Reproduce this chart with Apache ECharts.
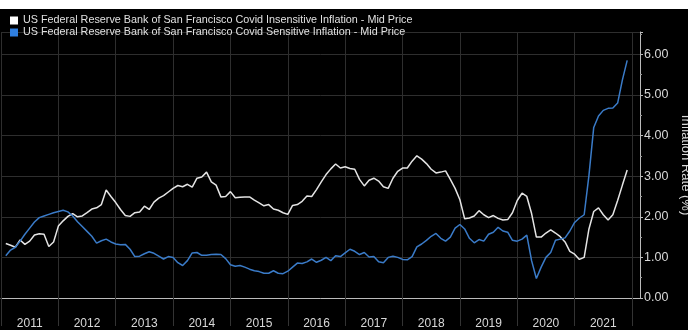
<!DOCTYPE html>
<html>
<head>
<meta charset="utf-8">
<script src="https://cdn.jsdelivr.net/npm/echarts@6/dist/echarts.min.js"></script>
<style>
  html, body { margin: 0; padding: 0; background: #fff; }
  #main { position: absolute; left: 0; top: 9px; width: 688px; height: 321px; background: #000; }
</style>
</head>
<body>
<div id="main"></div>
<script>
// monthly readings, Jan 2011 .. Nov 2021
var startYear = 2011;
var insensitive = [
  1.34, 1.30, 1.25, 1.43, 1.32, 1.40, 1.55, 1.58, 1.57, 1.27, 1.38, 1.77,
  1.90, 2.01, 2.08, 2.00, 2.02, 2.10, 2.19, 2.22, 2.30, 2.66, 2.50, 2.35,
  2.18, 2.03, 2.01, 2.10, 2.12, 2.26, 2.18, 2.36, 2.46, 2.52, 2.61, 2.70,
  2.77, 2.74, 2.80, 2.73, 2.95, 2.98, 3.10, 2.86, 2.78, 2.49, 2.50, 2.62,
  2.47, 2.48, 2.49, 2.49, 2.41, 2.34, 2.27, 2.30, 2.19, 2.16, 2.10, 2.06,
  2.28, 2.30, 2.38, 2.51, 2.50, 2.67, 2.86, 3.04, 3.18, 3.30, 3.20, 3.23,
  3.19, 3.17, 2.92, 2.76, 2.90, 2.95, 2.88, 2.74, 2.70, 2.95, 3.12, 3.20,
  3.20, 3.37, 3.50, 3.42, 3.31, 3.17, 3.08, 3.10, 3.13, 2.92, 2.70, 2.42,
  1.95, 1.97, 2.02, 2.15, 2.05, 1.98, 2.03, 1.96, 1.92, 1.93, 2.10, 2.40,
  2.58, 2.50, 2.08, 1.50, 1.50, 1.60, 1.68, 1.60, 1.51, 1.38, 1.15, 1.08,
  0.95, 1.00, 1.70, 2.13, 2.22, 2.05, 1.92, 2.05, 2.40, 2.78, 3.15
];
var sensitive = [
  1.04, 1.18, 1.25, 1.40, 1.57, 1.72, 1.87, 1.98, 2.02, 2.06, 2.10, 2.13,
  2.16, 2.12, 2.02, 1.88, 1.76, 1.64, 1.52, 1.35, 1.41, 1.45, 1.38, 1.33,
  1.31, 1.32, 1.20, 1.02, 1.03, 1.09, 1.14, 1.10, 1.03, 0.96, 1.02, 1.00,
  0.87, 0.80, 0.92, 1.11, 1.12, 1.05, 1.05, 1.07, 1.08, 1.07, 0.97, 0.82,
  0.78, 0.80, 0.76, 0.71, 0.67, 0.65, 0.61, 0.61, 0.67, 0.61, 0.60, 0.66,
  0.76, 0.86, 0.85, 0.89, 0.96, 0.88, 0.93, 1.00, 0.92, 1.04, 1.02, 1.11,
  1.20, 1.15, 1.07, 1.12, 1.01, 1.02, 0.89, 0.87, 1.00, 1.03, 1.00, 0.95,
  0.94, 1.02, 1.26, 1.33, 1.42, 1.52, 1.59, 1.47, 1.40, 1.50, 1.72, 1.81,
  1.70, 1.47, 1.36, 1.44, 1.40, 1.57, 1.62, 1.74, 1.65, 1.62, 1.42, 1.40,
  1.45, 1.55, 0.92, 0.48, 0.76, 1.00, 1.12, 1.42, 1.45, 1.48, 1.65, 1.86,
  1.97, 2.05, 3.02, 4.20, 4.48, 4.62, 4.67, 4.68, 4.80, 5.37, 5.85
];
var years = [2011, 2012, 2013, 2014, 2015, 2016, 2017, 2018, 2019, 2020, 2021];
var yTicks = [0, 1, 2, 3, 4, 5, 6];

var nameA = 'US Federal Reserve Bank of San Francisco Covid Insensitive Inflation - Mid Price';
var nameB = 'US Federal Reserve Bank of San Francisco Covid Sensitive Inflation - Mid Price';

// points sit at month end
function toPairs(arr) {
  return arr.map(function (v, i) { return [startYear + (i + 1) / 12, v]; });
}

var gridLines = years.concat([years[years.length - 1] + 1]);
var labelPos = years.map(function (y) { return y + 0.5; });

var chart = echarts.init(document.getElementById('main'));
chart.setOption({
  backgroundColor: '#000',
  animation: false,
  textStyle: { fontFamily: 'Liberation Sans' },
  legend: {
    left: 5, top: 1,
    orient: 'vertical',
    itemGap: 1,
    itemWidth: 8, itemHeight: 8,
    icon: 'rect',
    textStyle: { color: '#e0e0e0', fontSize: 10.8 },
    data: [nameA, nameB]
  },
  grid: { left: 1, right: 48, top: 23, bottom: 32, outerBoundsMode: 'none', containLabel: false },
  xAxis: {
    type: 'value',
    min: 2011, max: 2022.14,
    offset: 5,
    axisLine: { show: true, lineStyle: { color: '#bbb', width: 1 } },
    axisTick: { show: true, length: 28, customValues: gridLines, lineStyle: { color: '#333' } },
    axisLabel: {
      customValues: labelPos,
      formatter: function (v) { return String(Math.floor(v)); },
      color: '#d8d8d8', fontSize: 12, margin: 15
    },
    splitLine: { show: true, lineStyle: { color: '#2e2e2e' } }
  },
  yAxis: {
    type: 'value',
    position: 'right',
    min: 0, max: 6.55, interval: 1,
    name: 'Inflation Rate (%)',
    nameLocation: 'middle',
    nameRotate: -90,
    nameGap: 30,
    nameTextStyle: { color: '#d8d8d8', fontSize: 13 },
    axisLine: { show: true, lineStyle: { color: '#bbb' } },
    axisTick: { show: true, length: 3, lineStyle: { color: '#bbb' } },
    minorTick: { show: true, splitNumber: 2, length: 2, lineStyle: { color: '#999' } },
    axisLabel: {
      color: '#d8d8d8', fontSize: 12.5, margin: 4, showMaxLabel: false,
      formatter: function (v) { return yTicks.indexOf(v) >= 0 ? v.toFixed(2) : ''; }
    },
    splitLine: { show: true, lineStyle: { color: '#2e2e2e' } }
  },
  series: [
    {
      name: nameA, type: 'line', showSymbol: false,
      data: toPairs(insensitive),
      lineStyle: { color: '#e4e4e4', width: 1.5 },
      itemStyle: { color: '#ffffff' }
    },
    {
      name: nameB, type: 'line', showSymbol: false,
      data: toPairs(sensitive),
      lineStyle: { color: '#3a7bc8', width: 1.5 },
      itemStyle: { color: '#2f7fe0' }
    }
  ]
});
</script>
</body>
</html>
